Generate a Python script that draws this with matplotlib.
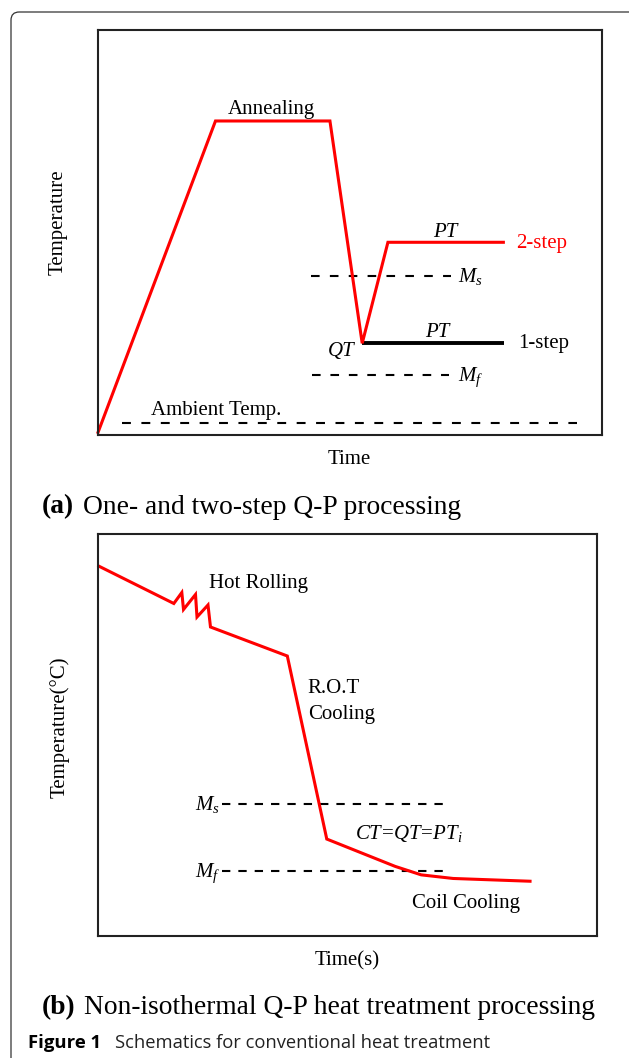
import matplotlib
matplotlib.use("Agg")
import matplotlib.pyplot as plt
from matplotlib.patches import FancyBboxPatch

W, H = 629, 1058
DPI = 100

plt.rcParams["font.family"] = ["Liberation Serif", "DejaVu Serif"]
plt.rcParams["mathtext.fontset"] = "custom"
plt.rcParams["mathtext.rm"] = "Liberation Serif"
plt.rcParams["mathtext.it"] = "Liberation Serif:italic"
plt.rcParams["lines.scale_dashes"] = False

RED = "#ff0000"

# ---- (a) one- and two-step Q-P: schematic time / temperature path ----
a_time = [0.0, 23.4, 46.1, 52.5, 57.6, 80.8]
a_temp = [0.4, 77.5, 77.5, 22.7, 47.6, 47.6]
a_one_step_time = [52.5, 80.6]
a_one_step_temp = [22.7, 22.7]
a_ms, a_mf, a_ambient = 39.4, 15.0, 3.0
a_ms_span = [42.3, 70.2]
a_mf_span = [42.5, 69.8]
a_ambient_span = [4.9, 95.2]

# ---- (b) non-isothermal Q-P: hot rolling, run-out table, coiling ----
b_time = [0.0, 15.28, 16.88, 17.22, 19.62, 19.92, 22.12, 22.62, 38.0, 45.9,
          59.6, 64.8, 71.2, 86.9]
b_temp = [92.1, 82.65, 85.38, 81.16, 84.89, 79.29, 82.28, 76.81, 69.6, 24.1,
          17.3, 15.2, 14.3, 13.6]
b_ms, b_mf = 32.8, 16.2
b_m_span = [25.0, 69.2]

fig = plt.figure(figsize=(W / DPI, H / DPI), dpi=DPI)
fig.patch.set_facecolor("white")


def px_rect(x0, y0, x1, y1):
    return [x0 / W, 1 - y1 / H, (x1 - x0) / W, (y1 - y0) / H]


def style_axes(ax):
    ax.set_xlim(0, 100)
    ax.set_ylim(0, 100)
    ax.set_xticks([])
    ax.set_yticks([])
    for s in ax.spines.values():
        s.set_linewidth(1.5)
        s.set_color("#222222")


def dashed_hline(ax, span, y, ax_width_px, dash=6.2, gap=6.0, lw=1.5):
    """Horizontal dashed line whose pattern starts and ends on a full dash."""
    length_pt = (span[1] - span[0]) / 100.0 * ax_width_px * 72.0 / DPI
    n = max(2, round((length_pt + gap) / (dash + gap)))
    g = (length_pt - n * dash) / (n - 1)
    ax.plot(span, [y, y], color="black", lw=lw, ls=(0, (dash, g)),
            solid_capstyle="butt", dash_capstyle="butt")


# outer rounded frame
frame = FancyBboxPatch((11 / W, 1 - 1075 / H), (640 - 11) / W, (1075 - 12) / H,
                       boxstyle="round,pad=0,rounding_size=0.013",
                       transform=fig.transFigure, facecolor="none",
                       edgecolor="#333333", linewidth=0.9, mutation_aspect=W / H)
fig.patches.append(frame)

LBL = 15
ITL = dict(fontsize=LBL, style="italic")

# ---------------- panel (a) ----------------
A_BOX = (97.5, 29.7, 601.7, 435.4)
axa = fig.add_axes(px_rect(*A_BOX))
style_axes(axa)
aw = A_BOX[2] - A_BOX[0]
dashed_hline(axa, a_ambient_span, a_ambient, aw, dash=6.4, gap=7.4)
dashed_hline(axa, a_ms_span, a_ms, aw, dash=6.2, gap=7.4)
dashed_hline(axa, a_mf_span, a_mf, aw, dash=6.2, gap=7.4)
axa.plot(a_one_step_time, a_one_step_temp, color="black", lw=2.8,
         solid_capstyle="butt")
axa.plot(a_time, a_temp, color=RED, lw=2.2, solid_joinstyle="miter",
         solid_capstyle="butt", clip_on=False)

axa.text(34.4, 79.1, "Annealing", fontsize=LBL, ha="center", va="baseline")
axa.text(68.9, 49.0, "PT", ha="center", va="baseline", **ITL)
axa.text(67.3, 24.2, "PT", ha="center", va="baseline", **ITL)
axa.text(48.4, 19.6, "QT", ha="center", va="baseline", **ITL)
axa.text(83.1, 46.1, "2-step", fontsize=LBL, color=RED, va="baseline")
axa.text(83.4, 21.5, "1-step", fontsize=LBL, va="baseline")
axa.text(71.5, 37.9, r"$M_s$", fontsize=LBL, va="baseline")
axa.text(71.5, 13.5, r"$M_f$", fontsize=LBL, va="baseline")
axa.text(10.7, 5.0, "Ambient Temp.", fontsize=LBL, va="baseline")

fig.text(58 / W, 1 - 222 / H, "Temperature", fontsize=LBL, rotation=90,
         ha="center", va="center")
fig.text(349 / W, 1 - 460 / H, "Time", fontsize=LBL, ha="center", va="center")
fig.text(42 / W, 1 - 513.5 / H, "(a)", fontsize=19.8, fontweight="bold",
         va="baseline")
fig.text(83 / W, 1 - 513.5 / H, "One- and two-step Q-P processing",
         fontsize=19.8, va="baseline")

# ---------------- panel (b) ----------------
B_BOX = (97.5, 533.7, 597.0, 936.0)
axb = fig.add_axes(px_rect(*B_BOX))
style_axes(axb)
bw = B_BOX[2] - B_BOX[0]
dashed_hline(axb, b_m_span, b_ms, bw, dash=6.0, gap=5.8)
dashed_hline(axb, b_m_span, b_mf, bw, dash=6.0, gap=5.8)
axb.plot(b_time, b_temp, color=RED, lw=2.2, solid_joinstyle="miter",
         solid_capstyle="butt", clip_on=False)

axb.text(22.4, 86.5, "Hot Rolling", fontsize=LBL, va="baseline")
axb.text(42.1, 60.5, "R.O.T", fontsize=LBL, va="baseline")
axb.text(42.1, 54.0, "Cooling", fontsize=LBL, va="baseline")
axb.text(51.6, 24.2, r"$CT\!=\!QT\!=\!PT_i$", fontsize=LBL, va="baseline")
axb.text(63.0, 7.0, "Coil Cooling", fontsize=LBL, va="baseline")
axb.text(24.6, 31.2, r"$M_s$", fontsize=LBL, ha="right", va="baseline")
axb.text(24.6, 14.6, r"$M_f$", fontsize=LBL, ha="right", va="baseline")

fig.text(60 / W, 1 - 727 / H, "Temperature(\u00b0C)", fontsize=LBL,
         rotation=90, ha="center", va="center")
fig.text(347 / W, 1 - 961 / H, "Time(s)", fontsize=LBL, ha="center",
         va="center")
fig.text(42 / W, 1 - 1014 / H, "(b)", fontsize=19.8, fontweight="bold",
         va="baseline")
fig.text(84 / W, 1 - 1014 / H, "Non-isothermal Q-P heat treatment processing",
         fontsize=19.8, va="baseline")

# caption
fig.text(28 / W, 1 - 1048.3 / H, "Figure 1", fontsize=13.3, fontweight="bold",
         family=["Open Sans", "DejaVu Sans"], va="baseline")
fig.text(115 / W, 1 - 1048.3 / H, "Schematics for conventional heat treatment",
         fontsize=13.2, family=["Open Sans", "DejaVu Sans"], color="#222222",
         va="baseline")

fig.savefig("out.png", dpi=DPI, facecolor="white")
